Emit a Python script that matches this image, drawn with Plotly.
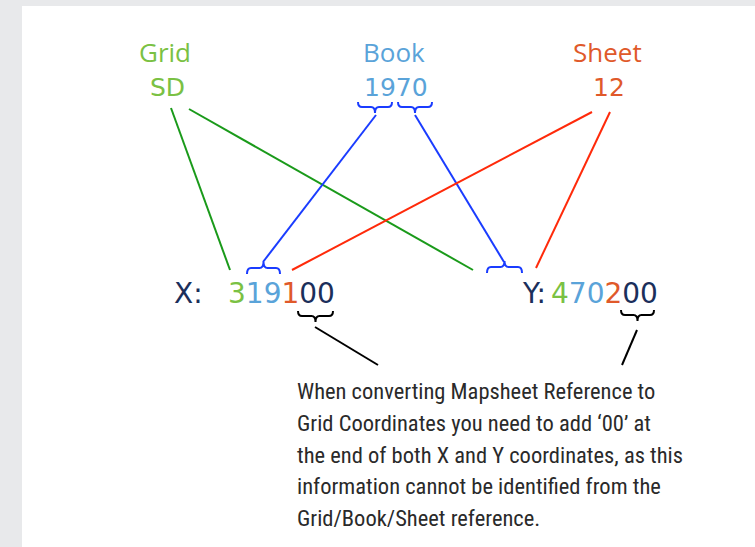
import plotly.graph_objects as go

W, H = 755, 547

# ---- content ----
headers = ["Grid", "Book", "Sheet"]
codes = ["SD", "1970", "12"]
header_colors = ["#7ac143", "#5aa3d9", "#e0592a"]
header_x = [165, 394, 607]

x_label = "X:"
y_label = "Y:"
x_digits = ["3", "19", "1", "00"]
y_digits = ["4", "70", "2", "00"]
digit_colors = ["#7ac143", "#5aa3d9", "#e0592a", "#1b2f5b"]

note_lines = [
    "When converting Mapsheet Reference to",
    "Grid Coordinates you need to add \u201800\u2019 at",
    "the end of both X and Y coordinates, as this",
    "information cannot be identified from the",
    "Grid/Book/Sheet reference.",
]

# connector lines: (x0, y0, x1, y1, color)
connectors = [
    (171, 108, 230, 270, "#1a9a1a"),
    (189, 109, 473, 270, "#1a9a1a"),
    (376, 115, 263, 262, "#1a3cff"),
    (415, 115, 504, 262, "#1a3cff"),
    (592, 112, 292, 270, "#ff2a0a"),
    (610, 112, 536, 268, "#ff2a0a"),
    (315, 327, 378, 365, "#000000"),
    (637, 330, 622, 365, "#000000"),
]

# braces: (x0, x1, tip_y, bar_y, stem_y, color)
braces = [
    (358, 392, 102, 107, 113, "#1a3cff"),
    (398, 432, 102, 107, 113, "#1a3cff"),
    (247, 280, 274, 268, 262, "#1a3cff"),
    (487, 522, 273, 267, 261, "#1a3cff"),
    (298, 333, 311, 316, 322, "#000000"),
    (621, 654, 310, 315, 321, "#000000"),
]


def brace_path(x0, x1, yt, yb, ys):
    xc = (x0 + x1) / 2
    r = 4
    return (f"M {x0},{yt} Q {x0},{yb} {x0 + r},{yb} L {xc - r},{yb} "
            f"Q {xc},{yb} {xc},{ys} Q {xc},{yb} {xc + r},{yb} "
            f"L {x1 - r},{yb} Q {x1},{yb} {x1},{yt}")


def colored(parts):
    return "".join(f"<span style='color:{c}'>{p}</span>" for p, c in zip(parts, digit_colors))


fig = go.Figure()
fig.add_trace(go.Scatter(x=[0, W], y=[0, H], mode="markers", marker=dict(opacity=0), hoverinfo="skip", showlegend=False))

shapes = [dict(type="rect", x0=22, y0=6, x1=W + 2, y1=H + 2, fillcolor="white", line=dict(width=0), layer="below")]
for x0, y0, x1, y1, c in connectors:
    shapes.append(dict(type="line", x0=x0, y0=y0, x1=x1, y1=y1, line=dict(color=c, width=2)))
for x0, x1, yt, yb, ys, c in braces:
    shapes.append(dict(type="path", path=brace_path(x0, x1, yt, yb, ys), line=dict(color=c, width=2)))

ann = []
word_font = "Open Sans, Noto Sans, sans-serif"
digit_font = "DejaVu Sans, sans-serif"
for h, cd, c, x in zip(headers, codes, header_colors, header_x):
    ann.append(dict(x=x, y=52, text=h, font=dict(family=word_font, size=26, color=c)))
    ann.append(dict(x=x + 2, y=87, text=cd, font=dict(family=digit_font, size=25, color=c)))

ann.append(dict(x=188, y=293, text=x_label, font=dict(family=digit_font, size=28, color="#1b2f5b")))
ann.append(dict(x=281, y=293, text=colored(x_digits), font=dict(family=digit_font, size=28)))
ann.append(dict(x=534, y=293, text=y_label, font=dict(family=digit_font, size=28, color="#1b2f5b")))
ann.append(dict(x=604, y=293, text=colored(y_digits), font=dict(family=digit_font, size=28)))

for i, line in enumerate(note_lines):
    ann.append(dict(x=295, y=391 + i * 31.8, text=line, xanchor="left",
                    font=dict(family="Liberation Sans Narrow, Roboto Condensed, Roboto, sans-serif", size=22.5, color="#2a2a2a")))

for a in ann:
    a.update(xref="x", yref="y", showarrow=False, yanchor="middle")
    a.setdefault("xanchor", "center")

fig.update_layout(
    width=W, height=H, margin=dict(l=0, r=0, t=0, b=0),
    paper_bgcolor="#e8e9eb", plot_bgcolor="rgba(0,0,0,0)",
    xaxis=dict(range=[0, W], visible=False, fixedrange=True),
    yaxis=dict(range=[H, 0], visible=False, fixedrange=True),
    shapes=shapes, annotations=ann, showlegend=False,
)
fig.write_html("out.html", config={"displayModeBar": False},
               post_script="document.body.style.margin='0';document.body.style.overflow='hidden';")
